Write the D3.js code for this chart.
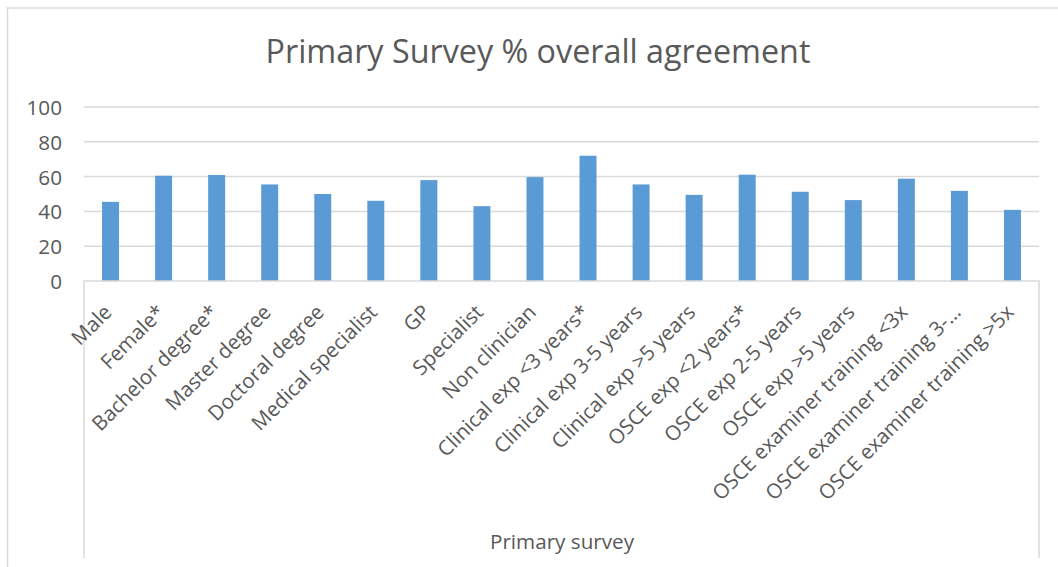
<!DOCTYPE html>
<html>
<head>
<meta charset="utf-8">
<script src="https://cdn.jsdelivr.net/npm/d3@7"></script>
<style>
  html, body { margin: 0; padding: 0; background: #fff; }
  svg { display: block; }
  text { font-family: "Open Sans", "Noto Sans", sans-serif; fill: #595959; }
</style>
</head>
<body>
<svg id="chart" width="1058" height="567"></svg>
<script>
const categories = [
  "Male", "Female*", "Bachelor degree*", "Master degree", "Doctoral degree",
  "Medical specialist", "GP", "Specialist", "Non clinician",
  "Clinical exp <3 years*", "Clinical exp 3-5 years", "Clinical exp >5 years",
  "OSCE exp <2 years*", "OSCE exp 2-5 years", "OSCE exp >5 years",
  "OSCE examiner training <3x", "OSCE examiner training 3-…", "OSCE examiner training >5x"
];
const values = [45.5, 60.5, 60.9, 55.5, 50.0, 46.1, 58.0, 43.0, 59.7,
                72.0, 55.5, 49.5, 61.1, 51.3, 46.5, 58.8, 51.8, 40.9];
const yTicks = [0, 20, 40, 60, 80, 100];
const chartTitle = "Primary Survey % overall agreement";
const xAxisTitle = "Primary survey";

const svg = d3.select("#chart");
const W = 1058, H = 567;
const plot = { left: 84, right: 1039, top: 107, bottom: 281, labelBottom: 558 };

function fitFont(sel, target, start) {
  sel.style("font-size", start + "px");
  const w = sel.node().getComputedTextLength();
  sel.style("font-size", (start * target / w).toFixed(2) + "px");
}

// outer chart border
svg.append("rect")
  .attr("x", 7.5).attr("y", 8).attr("width", W + 20).attr("height", H + 20)
  .attr("fill", "none").attr("stroke", "#d9d9d9").attr("stroke-width", 1.5);

const x = d3.scaleBand().domain(categories)
  .range([plot.left, plot.right]).paddingInner(0.68).paddingOuter(0.34);
const y = d3.scaleLinear().domain([0, 100]).range([plot.bottom, plot.top]);

// gridlines
svg.append("g").selectAll("line").data(yTicks.filter(d => d > 0)).join("line")
  .attr("x1", plot.left).attr("x2", plot.right)
  .attr("y1", d => y(d)).attr("y2", d => y(d))
  .attr("stroke", "#d9d9d9").attr("stroke-width", 1.5);

// y axis labels
const yAxis = svg.append("g")
  .attr("transform", `translate(${plot.left - 22},0)`)
  .call(d3.axisLeft(y).tickValues(yTicks).tickSize(0).tickPadding(0));
yAxis.select(".domain").remove();
yAxis.selectAll("text").attr("fill", "#595959").attr("dy", "0.36em");
yAxis.selectAll("text").each(function() {
  fitFont(d3.select(this), 35.5 * d3.select(this).text().length / 3, 18);
});

// bars
svg.append("g").selectAll("rect").data(values).join("rect")
  .attr("x", (d, i) => x(categories[i]))
  .attr("width", x.bandwidth())
  .attr("y", d => y(d))
  .attr("height", d => y(0) - y(d))
  .attr("fill", "#5b9bd5");

// category axis box
svg.append("path")
  .attr("d", d3.line()([[plot.left, plot.labelBottom], [plot.left, plot.bottom],
                        [plot.right, plot.bottom], [plot.right, plot.labelBottom]]))
  .attr("fill", "none").attr("stroke", "#d9d9d9").attr("stroke-width", 1.5);

// x labels
const xAxis = svg.append("g")
  .attr("transform", `translate(0,${plot.bottom})`)
  .call(d3.axisBottom(x).tickSize(0).tickPadding(0));
xAxis.select(".domain").remove();
// measure font size from longest label
const probe = svg.append("text").text("OSCE examiner training >5x");
fitFont(probe, 266, 18);
const xFont = probe.style("font-size");
probe.remove();
xAxis.selectAll(".tick text")
  .attr("fill", "#595959")
  .style("font-size", xFont)
  .attr("text-anchor", "end")
  .attr("dy", 0)
  .attr("y", 0)
  .attr("transform", "translate(2.5,32.5) rotate(-45)");

// chart title
const t = svg.append("text")
  .attr("x", 538).attr("y", 63).attr("text-anchor", "middle")
  .text(chartTitle);
fitFont(t, 545, 28);

// x axis title
const at = svg.append("text")
  .attr("x", 562).attr("y", 549).attr("text-anchor", "middle")
  .text(xAxisTitle);
fitFont(at, 144, 18);
</script>
</body>
</html>
